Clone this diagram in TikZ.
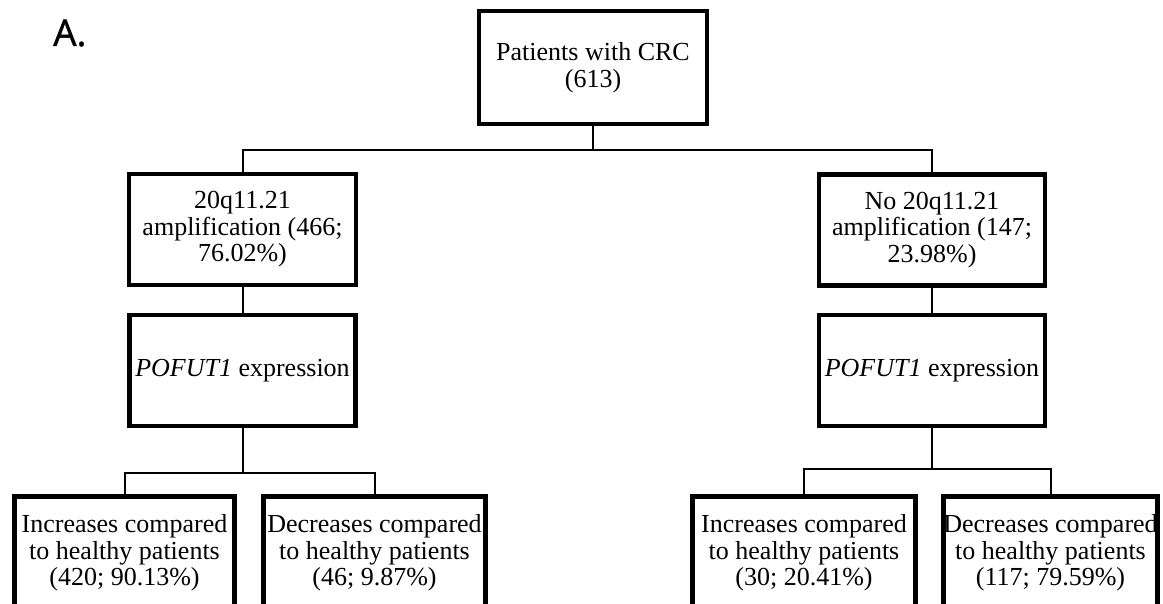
\documentclass[tikz,border=0pt]{standalone}
\usepackage{fontspec}
\setmainfont{Liberation Serif}
\setsansfont{Open Sans}
\usepackage{tikz}

\begin{document}
\begin{tikzpicture}[x=1pt,y=1pt,yscale=-1,
  box/.style={draw, line width=4.5pt, align=center, inner sep=0pt, minimum height=111,
    font=\fontsize{26}{26.5}\selectfont},
  link/.style={line width=2pt}]
\useasboundingbox (0,0) rectangle (1163,604);
\clip (0,0) rectangle (1163,604);

% Text Node
\node [anchor=base west, inner sep=0pt, font=\sffamily\addfontfeature{FakeBold=1.2}\fontsize{37}{40}\selectfont] (panel) at (53,46) {A.};

%Shape: Rectangle [top]
\node [box, minimum width=228, minimum height=113] (crc) at (593,67.5) {Patients with CRC\\(613)};
%Shape: Rectangle [left branch]
\node [box, minimum width=227] (ampl) at (242.5,229.5) {20q11.21\\amplification (466;\\76.02\%)};
\node [box, minimum width=226] (exprL) at (242.5,370.5) {\textit{POFUT1} expression};
%Shape: Rectangle [right branch]
\node [box, minimum width=226] (noampl) at (932,230) {No 20q11.21\\amplification (147;\\23.98\%)};
\node [box, minimum width=226] (exprR) at (932,370.5) {\textit{POFUT1} expression};
%Shape: Rectangle [bottom row]
\node [box, minimum width=220, minimum height=113] (incL) at (124.5,553) {Increases compared\\to healthy patients\\(420; 90.13\%)};
\node [box, minimum width=222, minimum height=113] (decL) at (374.5,553) {Decreases compared\\to healthy patients\\(46; 9.87\%)};
\node [box, minimum width=223, minimum height=113] (incR) at (804,553) {Increases compared\\to healthy patients\\(30; 20.41\%)};
\node [box, minimum width=214, minimum height=113] (decR) at (1050.5,553) {Decreases compared\\to healthy patients\\(117; 79.59\%)};

%Straight Lines
\coordinate (split) at (593,150);
\coordinate (splitL) at (242.5,473);
\coordinate (splitR) at (932,469);
\draw [link] (crc.south) -- (split);
\draw [link] (split) -| (ampl.north);
\draw [link] (split) -| (noampl.north);
\draw [link] (ampl.south) -- (exprL.north);
\draw [link] (noampl.south) -- (exprR.north);
\draw [link] (exprL.south) -- (splitL);
\draw [link] (splitL) -| (incL.north);
\draw [link] (splitL) -| (decL.north);
\draw [link] (exprR.south) -- (splitR);
\draw [link] (splitR) -| (incR.north);
\draw [link] (splitR) -| (decR.north);

\end{tikzpicture}
\end{document}
